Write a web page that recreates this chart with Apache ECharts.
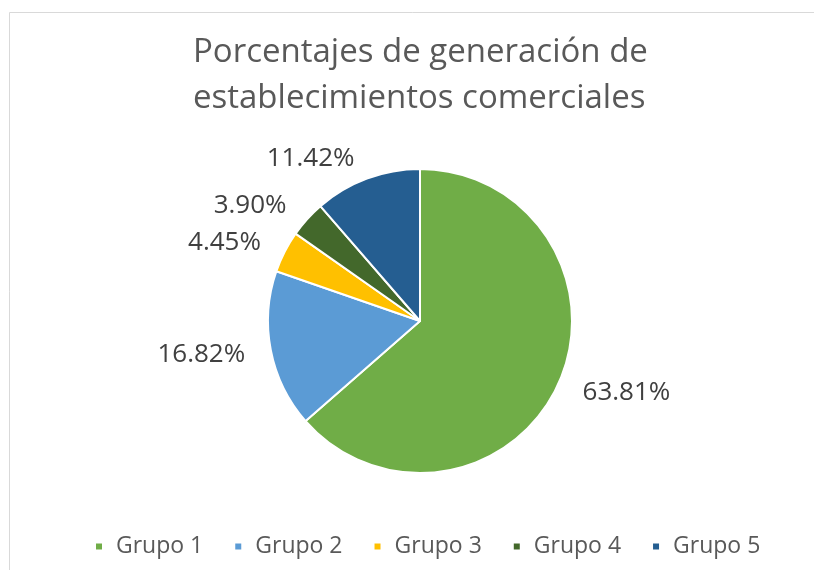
<!DOCTYPE html>
<html>
<head>
<meta charset="utf-8">
<script src="https://cdn.jsdelivr.net/npm/echarts@6/dist/echarts.min.js"></script>
<style>html,body{margin:0;padding:0;background:#fff}#c{width:814px;height:570px}</style>
</head>
<body>
<div id="c"></div>
<script>
const titleText = 'Porcentajes de generación de\nestablecimientos comerciales';
const categories = ['Grupo 1', 'Grupo 2', 'Grupo 3', 'Grupo 4', 'Grupo 5'];
const values = [63.81, 16.82, 4.45, 3.90, 11.42];
const colors = ['#70AD47', '#5B9BD5', '#FFC000', '#43682B', '#255E91'];

const chart = echarts.init(document.getElementById('c'), null, {renderer: 'canvas'});
const font = '"Open Sans", "Noto Sans", sans-serif';
chart.setOption({
  backgroundColor: '#ffffff',
  animation: false,
  color: colors,
  graphic: [{
    type: 'rect', left: 7, top: 10,
    shape: {width: 810, height: 560},
    style: {fill: 'none', stroke: '#d9d9d9', lineWidth: 1}, silent: true
  }],
  title: {
    text: titleText,
    left: 188,
    top: 25,
    textAlign: 'left',
    textStyle: {fontFamily: font, fontSize: 33, fontWeight: 'normal', color: '#595959', lineHeight: 46, align: 'center'}
  },
  legend: {
    data: categories,
    left: 89,
    top: 530,
    icon: 'rect',
    itemWidth: 8,
    itemHeight: 8,
    itemGap: 30,
    textStyle: {fontFamily: font, fontSize: 23, color: '#595959', padding: [0, 0, 0, 8]}
  },
  series: [{
    type: 'pie',
    center: [420, 321],
    radius: [0, 152],
    startAngle: 90,
    clockwise: true,
    avoidLabelOverlap: false,
    itemStyle: {borderColor: '#ffffff', borderWidth: 2},
    label: {
      show: true,
      position: 'outside',
      formatter: p => p.value.toFixed(2) + '%',
      fontFamily: font,
      fontSize: 26,
      color: '#404040'
    },
    labelLine: {show: false, length: 21, length2: 0},
    data: categories.map((c, i) => ({name: c, value: values[i]}))
  }]
});
</script>
</body>
</html>
